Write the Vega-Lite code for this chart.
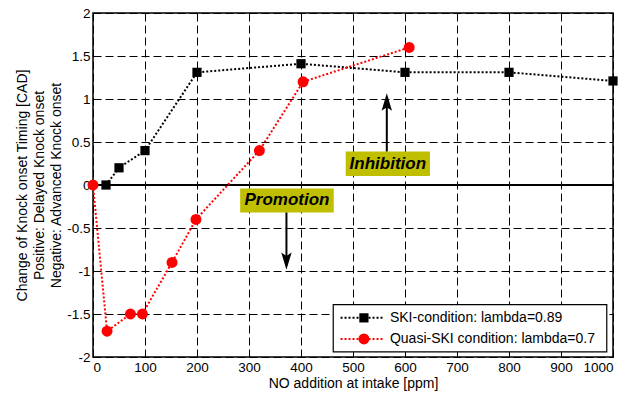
{
  "$schema": "https://vega.github.io/schema/vega-lite/v6.json",
  "width": 520,
  "height": 344,
  "autosize": {"type": "none"},
  "padding": {"left": 93, "top": 13, "right": 26, "bottom": 40},
  "background": "white",
  "config": {
    "font": "Liberation Sans",
    "view": {"stroke": "black", "strokeWidth": 1.5},
    "axis": {
      "labelFont": "Liberation Sans",
      "titleFont": "Liberation Sans",
      "labelFontSize": 13.5,
      "titleFontSize": 14,
      "labelColor": "black",
      "titleColor": "black",
      "titleFontWeight": "normal",
      "gridColor": "#000000",
      "gridDash": [8, 4],
      "gridWidth": 1,
      "gridOpacity": 1,
      "domain": false,
      "tickColor": "black",
      "tickSize": -5,
      "tickWidth": 1
    }
  },
  "datasets": {
    "ski": [
      {"x": 25, "y": 0},
      {"x": 50, "y": 0.2},
      {"x": 100, "y": 0.4},
      {"x": 200, "y": 1.31},
      {"x": 400, "y": 1.41},
      {"x": 600, "y": 1.31},
      {"x": 800, "y": 1.31},
      {"x": 1000, "y": 1.21}
    ],
    "quasi": [
      {"x": 0, "y": 0},
      {"x": 27, "y": -1.7},
      {"x": 72, "y": -1.5},
      {"x": 95, "y": -1.5},
      {"x": 152, "y": -0.9},
      {"x": 198, "y": -0.4},
      {"x": 320, "y": 0.4},
      {"x": 404, "y": 1.2},
      {"x": 608, "y": 1.6}
    ],
    "boxes": [
      {"label": "Inhibition", "x": 486, "x2": 648, "y": 0.39, "y2": 0.105, "tx": 567, "ty": 0.245},
      {"label": "Promotion", "x": 283, "x2": 463, "y": -0.04, "y2": -0.32, "tx": 373, "ty": -0.18}
    ],
    "arrows": [
      {"x": 565, "y": 0.39, "y2": 1.0},
      {"x": 372, "y": -0.32, "y2": -0.93}
    ],
    "legendSki": [{"x": 476, "x2": 557, "px": 521, "tx": 571, "y": -1.545, "label": "SKI-condition: lambda=0.89"}],
    "legendQuasi": [{"x": 476, "x2": 557, "px": 521, "tx": 571, "y": -1.79, "label": "Quasi-SKI condition: lambda=0.7"}]
  },
  "layer": [
    {
      "data": {"name": "ski"},
      "mark": {"type": "line", "color": "black", "strokeWidth": 2, "strokeDash": [2, 2], "clip": true},
      "encoding": {
        "x": {
          "field": "x", "type": "quantitative",
          "scale": {"domain": [0, 1000], "nice": false, "zero": false},
          "axis": {"values": [0, 100, 200, 300, 400, 500, 600, 700, 800, 900, 1000], "labelExpr": "'' + datum.value", "title": "NO addition at intake [ppm]", "grid": true, "labelPadding": 8, "titlePadding": 3}
        },
        "y": {
          "field": "y", "type": "quantitative",
          "scale": {"domain": [-2, 2], "nice": false, "zero": false},
          "axis": {"values": [-2, -1.5, -1, -0.5, 0, 0.5, 1, 1.5, 2], "labelExpr": "'' + datum.value", "title": ["Change of Knock onset Timing [CAD]", "Positive: Delayed Knock onset", "Negative: Advanced Knock onset"], "grid": true, "labelPadding": 8, "titlePadding": 3, "titleLineHeight": 17}
        }
      }
    },
    {
      "data": {"name": "boxes"},
      "mark": {"type": "rect", "color": "#BFBF00"},
      "encoding": {
        "x": {"field": "x", "type": "quantitative"},
        "x2": {"field": "x2"},
        "y": {"field": "y", "type": "quantitative"},
        "y2": {"field": "y2"}
      }
    },
    {
      "data": {"values": [{"y": 0}]},
      "mark": {"type": "rule", "color": "black", "strokeWidth": 2},
      "encoding": {"y": {"field": "y", "type": "quantitative"}}
    },
    {
      "data": {"name": "boxes"},
      "mark": {"type": "text", "font": "Liberation Sans", "fontSize": 17, "fontWeight": "bold", "fontStyle": "italic", "color": "black", "align": "center", "baseline": "middle"},
      "encoding": {
        "x": {"field": "tx", "type": "quantitative"},
        "y": {"field": "ty", "type": "quantitative"},
        "text": {"field": "label"}
      }
    },
    {
      "data": {"name": "arrows"},
      "mark": {"type": "rule", "color": "black", "strokeWidth": 2},
      "encoding": {
        "x": {"field": "x", "type": "quantitative"},
        "y": {"field": "y", "type": "quantitative"},
        "y2": {"field": "y2"}
      }
    },
    {
      "data": {"values": [{"x": 565, "y": 0.965}]},
      "mark": {"type": "point", "filled": true, "color": "black", "opacity": 1, "size": 300, "shape": "M0,-1L0.6,1L0,0.6L-0.6,1Z"},
      "encoding": {
        "x": {"field": "x", "type": "quantitative"},
        "y": {"field": "y", "type": "quantitative"}
      }
    },
    {
      "data": {"values": [{"x": 372, "y": -0.885}]},
      "mark": {"type": "point", "filled": true, "color": "black", "opacity": 1, "size": 300, "shape": "M0,1L0.6,-1L0,-0.6L-0.6,-1Z"},
      "encoding": {
        "x": {"field": "x", "type": "quantitative"},
        "y": {"field": "y", "type": "quantitative"}
      }
    },
    {
      "data": {"name": "ski"},
      "mark": {"type": "point", "shape": "square", "filled": true, "color": "black", "opacity": 1, "size": 85},
      "encoding": {
        "x": {"field": "x", "type": "quantitative"},
        "y": {"field": "y", "type": "quantitative"}
      }
    },
    {
      "data": {"name": "quasi"},
      "mark": {"type": "line", "color": "#FF0000", "strokeWidth": 2, "strokeDash": [2, 2]},
      "encoding": {
        "x": {"field": "x", "type": "quantitative"},
        "y": {"field": "y", "type": "quantitative"}
      }
    },
    {
      "data": {"name": "quasi"},
      "mark": {"type": "point", "shape": "circle", "filled": true, "color": "#FF0000", "opacity": 1, "size": 120},
      "encoding": {
        "x": {"field": "x", "type": "quantitative"},
        "y": {"field": "y", "type": "quantitative"}
      }
    },
    {
      "data": {"values": [{"x": 462, "x2": 988, "y": -1.39, "y2": -1.94}]},
      "mark": {"type": "rect", "fill": "white", "stroke": "black", "strokeWidth": 1.2},
      "encoding": {
        "x": {"field": "x", "type": "quantitative"},
        "x2": {"field": "x2"},
        "y": {"field": "y", "type": "quantitative"},
        "y2": {"field": "y2"}
      }
    },
    {
      "data": {"name": "legendSki"},
      "mark": {"type": "rule", "color": "black", "strokeWidth": 2, "strokeDash": [2, 2]},
      "encoding": {
        "x": {"field": "x", "type": "quantitative"},
        "x2": {"field": "x2"},
        "y": {"field": "y", "type": "quantitative"}
      }
    },
    {
      "data": {"name": "legendSki"},
      "mark": {"type": "point", "shape": "square", "filled": true, "color": "black", "opacity": 1, "size": 85},
      "encoding": {
        "x": {"field": "px", "type": "quantitative"},
        "y": {"field": "y", "type": "quantitative"}
      }
    },
    {
      "data": {"name": "legendSki"},
      "mark": {"type": "text", "font": "Liberation Sans", "fontSize": 14, "color": "black", "align": "left", "baseline": "middle"},
      "encoding": {
        "x": {"field": "tx", "type": "quantitative"},
        "y": {"field": "y", "type": "quantitative"},
        "text": {"field": "label"}
      }
    },
    {
      "data": {"name": "legendQuasi"},
      "mark": {"type": "rule", "color": "#FF0000", "strokeWidth": 2, "strokeDash": [2, 2]},
      "encoding": {
        "x": {"field": "x", "type": "quantitative"},
        "x2": {"field": "x2"},
        "y": {"field": "y", "type": "quantitative"}
      }
    },
    {
      "data": {"name": "legendQuasi"},
      "mark": {"type": "point", "shape": "circle", "filled": true, "color": "#FF0000", "opacity": 1, "size": 120},
      "encoding": {
        "x": {"field": "px", "type": "quantitative"},
        "y": {"field": "y", "type": "quantitative"}
      }
    },
    {
      "data": {"name": "legendQuasi"},
      "mark": {"type": "text", "font": "Liberation Sans", "fontSize": 14, "color": "black", "align": "left", "baseline": "middle"},
      "encoding": {
        "x": {"field": "tx", "type": "quantitative"},
        "y": {"field": "y", "type": "quantitative"},
        "text": {"field": "label"}
      }
    }
  ]
}
